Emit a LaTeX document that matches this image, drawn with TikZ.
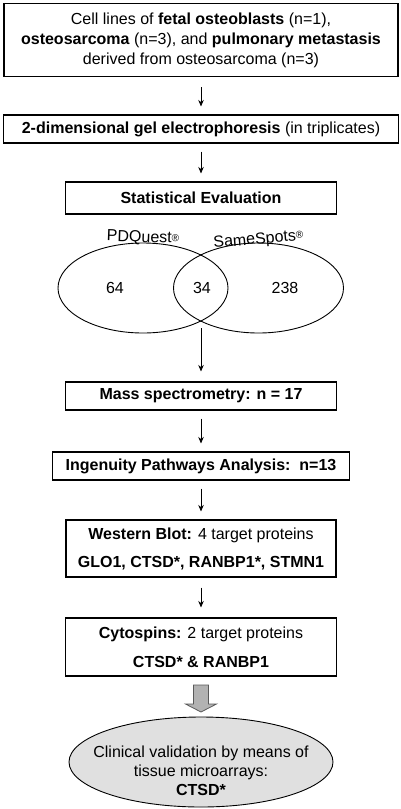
\documentclass[tikz,border=0pt]{standalone}
\usepackage{fontspec}
\setmainfont{Liberation Sans}
\usepackage{tikz}
\usetikzlibrary{positioning, arrows.meta, shapes.geometric}

\newcommand{\regmark}{\raisebox{2pt}{\fontsize{10}{10}\selectfont ®}}

\begin{document}
\begin{tikzpicture}[node distance=70pt, on grid, auto,
    font=\fontsize{16}{20}\selectfont,
    box/.style={draw, line width=1.1pt, align=center, inner sep=0pt},
    set/.style={draw, ellipse, line width=0.9pt, minimum width=170pt, minimum height=90pt},
    >={Stealth[length=6.5pt, width=5.5pt]}]
    \useasboundingbox (0,0) rectangle (400pt,-809pt);

    \node[box, minimum width=394pt, minimum height=73pt] (cell) at (201pt,-40pt)
        {Cell lines of \textbf{fetal osteoblasts} (n=1),\\ \textbf{osteosarcoma} (n=3), and \textbf{pulmonary metastasis}\\ derived from osteosarcoma (n=3)};
    \node[box, minimum width=395pt, minimum height=28pt] (gel) [below=89pt of cell]
        {\textbf{2-dimensional gel electrophoresis} (in triplicates)};
    \node[box, minimum width=271pt, minimum height=32pt] (stat) [below=69pt of gel]
        {\textbf{Statistical Evaluation}};

    % venn diagram
    \node[set] (pdq) [below left=90pt and 58pt of stat] {};
    \node[set] (same) [right=115.5pt of pdq] {};
    \node[rotate=-2] (pdqlab) [above=50pt of pdq] {PDQuest\regmark};
    \node[rotate=5] (samelab) [above=48pt of same] {SameSpots\regmark};
    \node (n64) [left=28pt of pdq] {64};
    \node (n34) [right=59pt of pdq] {34};
    \node (n238) [right=26.5pt of same] {238};
    \coordinate[below=130pt of stat] (vout);

    \node[box, minimum width=271pt, minimum height=28pt] (ms) [below=198pt of stat]
        {\textbf{Mass spectrometry: n = 17}};
    \node[box, minimum width=297pt, minimum height=28pt] (ipa) [below=70pt of ms]
        {\textbf{Ingenuity Pathways Analysis:\ \ n=13}};
    \node[box, minimum width=270pt, minimum height=57pt] (wb) [below=82.5pt of ipa]
        {\textbf{Western Blot:} 4 target proteins\\[8pt] \textbf{GLO1, CTSD*, RANBP1*, STMN1}};
    \node[box, minimum width=271pt, minimum height=58pt] (cyto) [below=98.5pt of wb]
        {\textbf{Cytospins:} 2 target proteins\\[9pt] \textbf{CTSD* \& RANBP1}};
    \coordinate[below=38pt of cyto] (fat);
    \node[ellipse, draw, fill=black!12, line width=0.9pt, minimum width=264pt, minimum height=90pt,
        inner sep=0pt] (clin) [below=115pt of cyto] {};
    \node[align=center, font=\fontsize{16}{19}\selectfont] (clintxt) [below=9pt of clin]
        {Clinical validation by means of\\ tissue microarrays:\\ \textbf{CTSD*}};

    \path[->, line width=0.8pt, shorten >=8pt, shorten <=8pt]
    (cell) edge[shorten <=10pt] (gel)
    (gel) edge (stat)
    (vout) edge[shorten <=0pt, shorten >=10pt] (ms)
    (ms) edge (ipa)
    (ipa) edge (wb)
    (wb) edge[shorten <=10pt, shorten >=10pt] (cyto);

    % fat arrow
    \draw[draw=black!65, fill=black!30, line width=0.8pt, line join=miter]
        (fat) ++(-7.5pt,0) -- ++(0,-19pt) -- ++(-8pt,0) -- ++(15.5pt,-8pt)
        -- ++(15.5pt,8pt) -- ++(-8pt,0) -- ++(0,19pt) -- cycle;
\end{tikzpicture}
\end{document}
